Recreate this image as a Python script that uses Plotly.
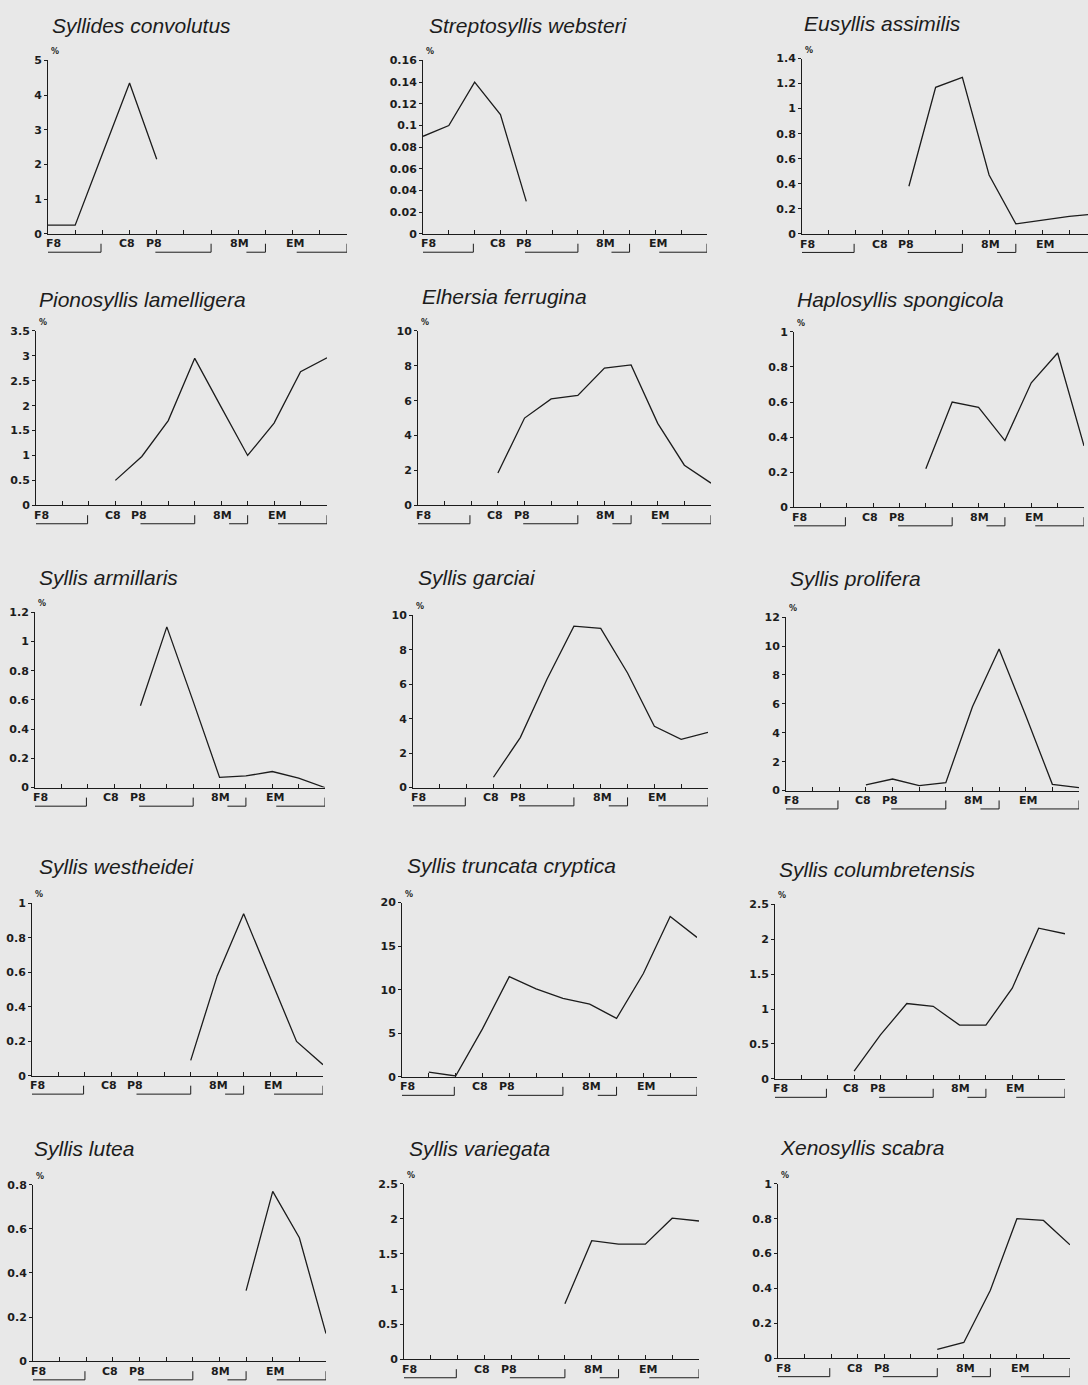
import plotly.graph_objects as go

# ---- data: percentage of each species at the 12 sampling positions ----
positions = list(range(12))

syllides_convolutus = [0.25, 0.25, 2.3, 4.35, 2.15, None, None, None, None, None, None, None]
streptosyllis_websteri = [0.09, 0.10, 0.14, 0.11, 0.03, None, None, None, None, None, None, None]
eusyllis_assimilis = [None, None, None, None, 0.38, 1.17, 1.25, 0.47, 0.08, 0.11, 0.14, 0.16]
pionosyllis_lamelligera = [None, None, None, 0.5, 0.98, 1.7, 2.95, 1.97, 1.0, 1.65, 2.68, 2.96]
elhersia_ferrugina = [None, None, None, 1.85, 5.0, 6.1, 6.3, 7.87, 8.05, 4.7, 2.3, 1.27]
haplosyllis_spongicola = [None, None, None, None, None, 0.22, 0.6, 0.57, 0.38, 0.71, 0.88, 0.35]
syllis_armillaris = [None, None, None, None, 0.56, 1.1, 0.59, 0.07, 0.08, 0.11, 0.065, 0.0]
syllis_garciai = [None, None, None, 0.6, 2.9, 6.3, 9.37, 9.24, 6.65, 3.56, 2.8, 3.2]
syllis_prolifera = [None, None, None, 0.39, 0.8, 0.34, 0.55, 5.8, 9.8, 5.2, 0.43, 0.2]
syllis_westheidei = [None, None, None, None, None, None, 0.09, 0.58, 0.94, 0.57, 0.2, 0.065]
syllis_truncata_cryptica = [None, 0.55, 0.1, 5.5, 11.5, 10.1, 9.0, 8.35, 6.7, 11.85, 18.4, 16.0]
syllis_columbretensis = [None, None, None, 0.11, 0.63, 1.08, 1.04, 0.77, 0.77, 1.3, 2.16, 2.08]
syllis_lutea = [None, None, None, None, None, None, None, None, 0.32, 0.77, 0.56, 0.125]
syllis_variegata = [None, None, None, None, None, None, 0.79, 1.69, 1.64, 1.64, 2.01, 1.97]
xenosyllis_scabra = [None, None, None, None, None, None, 0.05, 0.09, 0.39, 0.8, 0.79, 0.65]

# station group labels under the x axis and the spans of their brackets
group_labels = ["F8", "C8", "P8", "8M", "EM"]
group_label_pos = [0.2, 2.9, 3.9, 7.05, 9.1]
bracket_spans = [(0.0, 1.95), (3.95, 6.0), (7.3, 8.0), (9.15, 11.0)]

# ---- page geometry (pixels) ----
W, H = 1088, 1385
BG = "#e8e8e8"
INK = "#1c1c1c"

# title, series, y max, y step, axis box (left, right, top, bottom), title anchor (left, middle)
panels = [
    ("Syllides convolutus", syllides_convolutus, 5, 1, (48, 347, 55, 230), (50, 20)),
    ("Streptosyllis websteri", streptosyllis_websteri, 0.16, 0.02, (423, 707, 55, 230), (427, 20)),
    ("Eusyllis assimilis", eusyllis_assimilis, 1.4, 0.2, (802, 1096, 53, 230), (802, 18)),
    ("Pionosyllis lamelligera", pionosyllis_lamelligera, 3.5, 0.5, (36, 327, 328, 504), (37, 296)),
    ("Elhersia ferrugina", elhersia_ferrugina, 10, 2, (418, 711, 328, 504), (420, 293)),
    ("Haplosyllis spongicola", haplosyllis_spongicola, 1, 0.2, (794, 1084, 329, 506), (795, 296)),
    ("Syllis armillaris", syllis_armillaris, 1.2, 0.2, (35, 325, 612, 789), (37, 577)),
    ("Syllis garciai", syllis_garciai, 10, 2, (413, 708, 615, 789), (416, 577)),
    ("Syllis prolifera", syllis_prolifera, 12, 2, (786, 1079, 617, 792), (788, 578)),
    ("Syllis westheidei", syllis_westheidei, 1, 0.2, (32, 323, 906, 1080), (37, 869)),
    ("Syllis truncata cryptica", syllis_truncata_cryptica, 20, 5, (402, 697, 905, 1081), (405, 868)),
    ("Syllis columbretensis", syllis_columbretensis, 2.5, 0.5, (775, 1065, 907, 1083), (777, 872)),
    ("Syllis lutea", syllis_lutea, 0.8, 0.2, (33, 326, 1190, 1368), (32, 1153)),
    ("Syllis variegata", syllis_variegata, 2.5, 0.5, (404, 699, 1189, 1366), (407, 1153)),
    ("Xenosyllis scabra", xenosyllis_scabra, 1, 0.2, (778, 1070, 1189, 1365), (778, 1152)),
]

fig = go.Figure()
layout = {}
annotations = []
shapes = []

for i, (name, values, ymax, ystep, box, title_at) in enumerate(panels, start=1):
    sfx = "" if i == 1 else str(i)
    xa, ya = "x" + sfx, "y" + sfx
    left, right, top, bottom = box

    # axes that run past the page edge are cut at the edge
    step_px = (right - left) / 11.0
    x_hi = 11.0
    if right > W:
        x_hi = (W - left) / step_px
        right = W

    fig.add_trace(go.Scatter(
        x=positions, y=values, xaxis=xa, yaxis=ya, mode="lines",
        line=dict(color=INK, width=1.3), connectgaps=False,
        hoverinfo="skip", showlegend=False,
    ))

    n_ticks = int(round(ymax / ystep))
    tickvals = [round(k * ystep, 4) for k in range(n_ticks + 1)]
    ticktext = [f"{v:g}" for v in tickvals]

    layout["xaxis" + sfx] = dict(
        domain=[left / W, right / W], anchor=ya, range=[0, x_hi],
        showgrid=False, zeroline=False, showline=True, linecolor=INK, linewidth=1,
        tickmode="array", tickvals=positions, ticks="inside", ticklen=4,
        tickcolor=INK, tickwidth=1, showticklabels=False, fixedrange=True,
    )
    layout["yaxis" + sfx] = dict(
        domain=[1 - bottom / H, 1 - top / H], anchor=xa, range=[0, ymax],
        showgrid=False, zeroline=False, showline=True, linecolor=INK, linewidth=1,
        tickmode="array", tickvals=tickvals, ticktext=ticktext,
        ticks="outside", ticklen=3, tickcolor=INK, tickwidth=1,
        tickfont=dict(family="DejaVu Sans", size=11, color=INK, weight="bold"),
        fixedrange=True,
    )

    # species name
    annotations.append(dict(
        text=name, xref="paper", yref="paper",
        x=title_at[0] / W, y=1 - title_at[1] / H,
        xanchor="left", yanchor="middle", showarrow=False,
        font=dict(family="Liberation Sans, Arial", size=21, color=INK, style="italic"),
    ))
    # unit mark above the y axis
    annotations.append(dict(
        text="%", xref=xa, yref=ya + " domain", x=0, y=1,
        xanchor="left", yanchor="bottom", xshift=1, yshift=2, showarrow=False,
        font=dict(family="DejaVu Sans", size=8, color=INK, weight="bold"),
    ))
    # station group labels
    for lab, pos in zip(group_labels, group_label_pos):
        annotations.append(dict(
            text=lab, xref=xa, yref=ya + " domain", x=pos, y=-0.058,
            xanchor="center", yanchor="middle", showarrow=False,
            font=dict(family="DejaVu Sans", size=11, color=INK, weight="bold"),
        ))
    # brackets under the groups
    for a, b in bracket_spans:
        shapes.append(dict(type="line", xref=xa, yref=ya + " domain",
                           x0=a, x1=b, y0=-0.106, y1=-0.106,
                           line=dict(color=INK, width=1)))
        shapes.append(dict(type="line", xref=xa, yref=ya + " domain",
                           x0=b, x1=b, y0=-0.106, y1=-0.057,
                           line=dict(color=INK, width=1)))

fig.update_layout(
    width=W, height=H, margin=dict(l=0, r=0, t=0, b=0),
    paper_bgcolor=BG, plot_bgcolor=BG,
    annotations=annotations, shapes=shapes, **layout,
)

fig.write_html("out.html")
